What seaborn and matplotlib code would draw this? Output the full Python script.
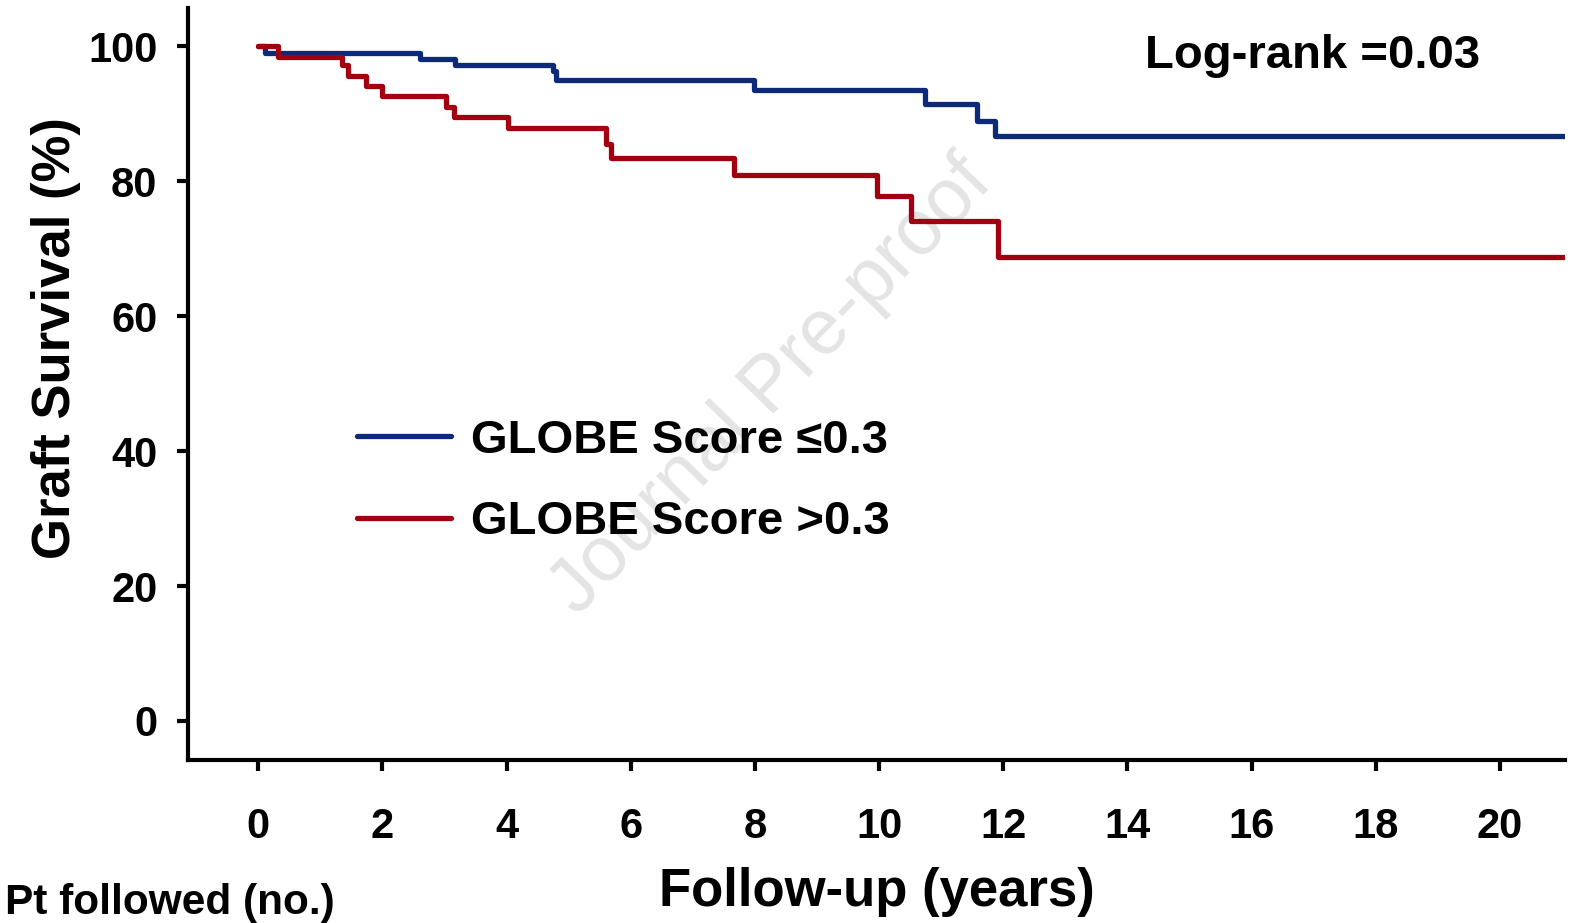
import pandas as pd
import matplotlib
matplotlib.use("Agg")
import matplotlib.pyplot as plt
import seaborn as sns

# Kaplan-Meier steps (years, % graft survival)
low_time = [0, 0.11, 2.61, 3.17, 4.75, 4.80, 7.98, 10.74, 11.58, 11.87, 21.5]
low_surv = [100, 99.1, 98.1, 97.2, 96.4, 95.1, 93.6, 91.4, 88.9, 86.7, 86.7]

high_time = [0, 0.32, 1.35, 1.45, 1.74, 2.00, 3.02, 3.15, 4.03, 5.60, 5.69,
             7.67, 9.97, 10.51, 11.92, 21.5]
high_surv = [100, 98.5, 97.2, 95.6, 94.1, 92.6, 91.0, 89.5, 87.9, 85.6, 83.4,
             80.9, 77.8, 74.1, 68.8, 68.8]

groups = ["GLOBE Score \u22640.3", "GLOBE Score >0.3"]
colors = ["#0d2a78", "#a0000f"]
x_ticks = list(range(0, 21, 2))
y_ticks = list(range(0, 101, 20))

df = pd.DataFrame({
    "time": low_time + high_time,
    "surv": low_surv + high_surv,
    "group": [groups[0]] * len(low_time) + [groups[1]] * len(high_time),
})

sns.set_style("ticks")
plt.rcParams["font.family"] = ["Liberation Sans", "DejaVu Sans"]
plt.rcParams["font.weight"] = "bold"
for k in ["text.color", "axes.labelcolor", "xtick.color", "ytick.color",
          "axes.edgecolor"]:
    plt.rcParams[k] = "black"

fig = plt.figure(figsize=(15.75, 9.23), dpi=100)
ax = fig.add_axes([0.1194, 0.1766, 0.8743, 0.8147])

# watermark
ax.text(0.424, 0.497, "Journal Pre-proof", transform=ax.transAxes, rotation=46,
        fontsize=56, fontweight="normal", color="#e4e4e4", ha="center",
        va="center", zorder=0)

sns.lineplot(data=df, x="time", y="surv", hue="group", hue_order=groups,
             palette=colors, estimator=None, sort=True, drawstyle="steps-post",
             linewidth=3.8, ax=ax, zorder=2)
# blue under red at the start
for line in ax.lines:
    if line.get_color() == colors[0]:
        line.set_zorder(1)

ax.set_xlim(-1.13, 21.05)
ax.set_ylim(-5.8, 105.7)
ax.set_xticks(x_ticks)
ax.set_yticks(y_ticks)
sns.despine(ax=ax)
for s in ["left", "bottom"]:
    ax.spines[s].set_linewidth(3)
ax.tick_params(axis="both", width=3, length=8, labelsize=30)
ax.tick_params(axis="x", pad=26)
ax.tick_params(axis="y", pad=14)
for lab in ax.get_xticklabels() + ax.get_yticklabels():
    lab.set_fontweight("bold")

ax.set_xlabel("Follow-up (years)", fontsize=38, fontweight="bold", labelpad=14)
ax.set_ylabel("Graft Survival (%)", fontsize=38, fontweight="bold")
ax.yaxis.set_label_coords(-0.078, 0.561)

ax.text(14.28, 98.6, "Log-rank =0.03", fontsize=34, fontweight="bold",
        ha="left", va="center")

ax.legend(loc="upper left", bbox_to_anchor=(0.1227, 0.454), frameon=False,
          borderpad=0, borderaxespad=0, handlelength=2.0, handletextpad=0.42,
          labelspacing=0.8, prop={"size": 34, "weight": "bold"})

fig.text(5 / 1575, 1 - 914 / 923, "Pt followed (no.)", fontsize=30.5,
         fontweight="bold", ha="left", va="baseline")

fig.savefig("out.png", dpi=100)
